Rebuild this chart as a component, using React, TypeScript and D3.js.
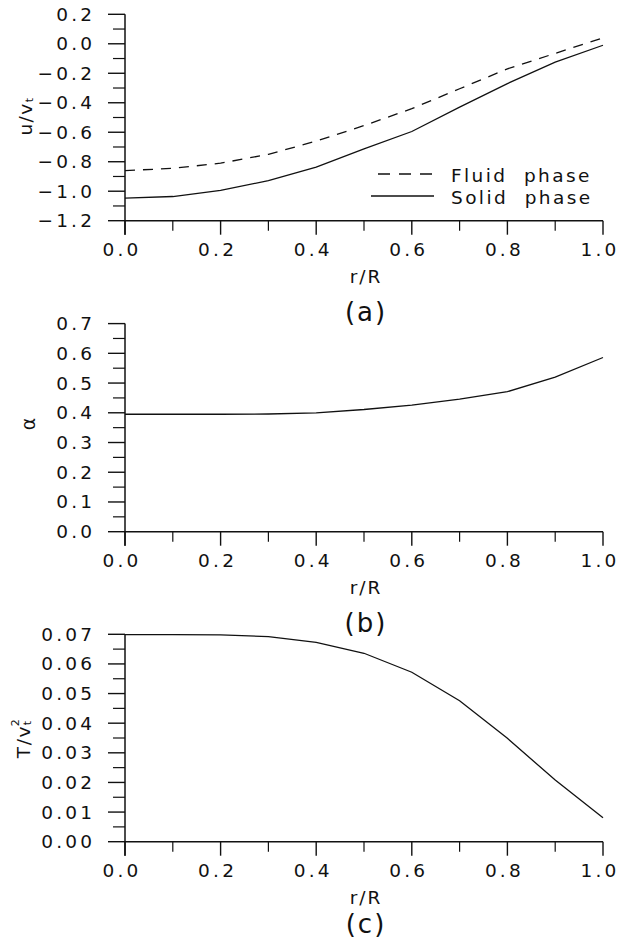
import React from "react";
import * as d3 from "d3";

const rValues = [0, 0.1, 0.2, 0.3, 0.4, 0.5, 0.6, 0.7, 0.8, 0.9, 1.0];
const fluidU = [-0.86, -0.845, -0.81, -0.75, -0.66, -0.555, -0.44, -0.305, -0.17, -0.065, 0.04];
const solidU = [-1.047, -1.036, -0.995, -0.928, -0.837, -0.713, -0.595, -0.43, -0.27, -0.125, -0.01];
const alphaVals = [0.395, 0.395, 0.395, 0.396, 0.4, 0.411, 0.426, 0.446, 0.471, 0.52, 0.586];
const tempVals = [0.0699, 0.0699, 0.0698, 0.0692, 0.0673, 0.0636, 0.0572, 0.0476, 0.0349, 0.0208, 0.0081];

const xTicksMajor = [0, 0.2, 0.4, 0.6, 0.8, 1.0];
const xTicksMinor = [0.1, 0.3, 0.5, 0.7, 0.9];
const yTicksA = [-1.2, -1.0, -0.8, -0.6, -0.4, -0.2, 0.0, 0.2];
const yTicksB = [0.0, 0.1, 0.2, 0.3, 0.4, 0.5, 0.6, 0.7];
const yTicksC = [0.0, 0.01, 0.02, 0.03, 0.04, 0.05, 0.06, 0.07];

const FONT = "'DejaVu Sans', sans-serif";
const INK = "#111";
const FS = 18.5;
const LS = 3.2;

const x = d3.scaleLinear().domain([0, 1]).range([125, 603]);

function fmt(v: number, digits: number) {
  const s = Math.abs(v).toFixed(digits);
  return (v < -1e-9 ? "\u2212" : "") + s;
}

function Panel(props: {
  y: d3.ScaleLinear<number, number>;
  ticks: number[];
  digits: number;
  tag: string;
  tagOffset: number;
  children?: React.ReactNode;
}) {
  const { y, ticks, digits, tag, tagOffset } = props;
  const [y0, y1] = y.range();
  const bottom = Math.max(y0, y1);
  const top = Math.min(y0, y1);
  const step = ticks[1] - ticks[0];
  const minor = ticks.slice(0, -1).map((t) => t + step / 2);
  return (
    <g>
      <line x1={x(0)} x2={x(0)} y1={top} y2={bottom + 14} stroke={INK} strokeWidth={1.5} />
      <line x1={x(0)} x2={x(1)} y1={bottom} y2={bottom} stroke={INK} strokeWidth={1.5} />
      {ticks.map((t, i) => (
        <g key={"ym" + i}>
          <line x1={x(0) - 17} x2={x(0)} y1={y(t)} y2={y(t)} stroke={INK} strokeWidth={1.4} />
          <text
            x={92 + LS}
            y={y(t)}
            textAnchor="end"
            dominantBaseline="central"
            fontFamily={FONT}
            fontSize={FS}
            letterSpacing={LS}
            fill={INK}
          >
            {fmt(t, digits)}
          </text>
        </g>
      ))}
      {minor.map((t, i) => (
        <line key={"yn" + i} x1={x(0) - 12} x2={x(0)} y1={y(t)} y2={y(t)} stroke={INK} strokeWidth={1.2} />
      ))}
      {xTicksMajor.map((t, i) => (
        <g key={"xm" + i}>
          <line x1={x(t)} x2={x(t)} y1={bottom} y2={bottom + 14} stroke={INK} strokeWidth={1.4} />
          <text
            x={x(t) - 3}
            y={bottom + 29}
            textAnchor="middle"
            dominantBaseline="central"
            fontFamily={FONT}
            fontSize={FS}
            letterSpacing={LS}
            fill={INK}
          >
            {t.toFixed(1)}
          </text>
        </g>
      ))}
      {xTicksMinor.map((t, i) => (
        <line key={"xn" + i} x1={x(t)} x2={x(t)} y1={bottom} y2={bottom + 10} stroke={INK} strokeWidth={1.2} />
      ))}
      <text
        x={366}
        y={bottom + 56}
        textAnchor="middle"
        dominantBaseline="central"
        fontFamily={FONT}
        fontSize={FS}
        letterSpacing={2}
        fill={INK}
      >
        r/R
      </text>
      <text
        x={366}
        y={bottom + tagOffset}
        textAnchor="middle"
        dominantBaseline="central"
        fontFamily={FONT}
        fontSize={26}
        letterSpacing={2}
        fill={INK}
      >
        {tag}
      </text>
      {props.children}
    </g>
  );
}

export default function App() {
  const yA = d3.scaleLinear().domain([-1.2, 0.2]).range([220.7, 14.3]);
  const yB = d3.scaleLinear().domain([0, 0.7]).range([531.7, 323.6]);
  const yC = d3.scaleLinear().domain([0, 0.07]).range([841.7, 634.3]);

  const mk = (ys: d3.ScaleLinear<number, number>, vals: number[]) =>
    d3
      .line<number>()
      .x((_, i) => x(rValues[i]))
      .y((v) => ys(v))(vals) || "";

  return (
    <svg
      width={619}
      height={942}
      style={{ position: "absolute", left: 0, top: 0, background: "#fff" }}
    >
      <rect width={619} height={942} fill="#fff" />
      <Panel y={yA} ticks={yTicksA} digits={1} tag="(a)" tagOffset={91}>
        <path d={mk(yA, fluidU)} fill="none" stroke={INK} strokeWidth={1.3} strokeDasharray="10 8" />
        <path d={mk(yA, solidU)} fill="none" stroke={INK} strokeWidth={1.3} />
        <line x1={378} x2={434} y1={174} y2={174} stroke={INK} strokeWidth={1.3} strokeDasharray="12 9" />
        <line x1={371} x2={434} y1={196} y2={196} stroke={INK} strokeWidth={1.3} />
        <text x={451} y={175} dominantBaseline="central" fontFamily={FONT} fontSize={FS} letterSpacing={2.4} fill={INK}>
          Fluid{"\u00a0\u00a0"}phase
        </text>
        <text x={451} y={197} dominantBaseline="central" fontFamily={FONT} fontSize={FS} letterSpacing={2.4} fill={INK}>
          Solid{"\u00a0\u00a0"}phase
        </text>
        <text
          transform="translate(25,116) rotate(-90)"
          textAnchor="middle"
          dominantBaseline="central"
          fontFamily={FONT}
          fontSize={FS}
          letterSpacing={1.5}
          fill={INK}
        >
          u/v
          <tspan fontSize={11} dy={4}>t</tspan>
        </text>
      </Panel>
      <Panel y={yB} ticks={yTicksB} digits={1} tag="(b)" tagOffset={91}>
        <path d={mk(yB, alphaVals)} fill="none" stroke={INK} strokeWidth={1.3} />
        <text
          transform="translate(28,424) rotate(-90)"
          textAnchor="middle"
          dominantBaseline="central"
          fontFamily={FONT}
          fontSize={19}
          fill={INK}
        >
          α
        </text>
      </Panel>
      <Panel y={yC} ticks={yTicksC} digits={2} tag="(c)" tagOffset={82}>
        <path d={mk(yC, tempVals)} fill="none" stroke={INK} strokeWidth={1.3} />
        <text
          transform="translate(23,738) rotate(-90)"
          textAnchor="middle"
          dominantBaseline="central"
          fontFamily={FONT}
          fontSize={FS}
          letterSpacing={1.5}
          fill={INK}
        >
          T/v
          <tspan fontSize={11} dy={4}>t</tspan>
          <tspan fontSize={11} dx={-7} dy={-12}>2</tspan>
        </text>
      </Panel>
    </svg>
  );
}
